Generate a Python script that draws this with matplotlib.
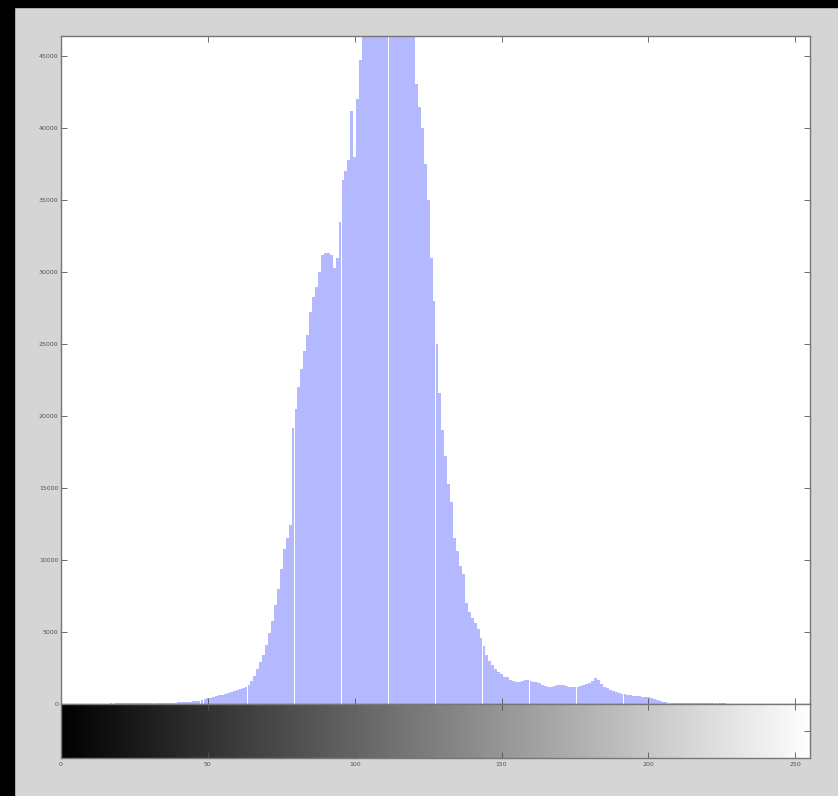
import numpy as np
import matplotlib
matplotlib.use("Agg")
import matplotlib.pyplot as plt
from matplotlib.patches import Rectangle

# Grey level counts (0..255)
counts = [
    10, 5, 8, 12, 10, 15, 12, 18, 20, 15,
    22, 25, 20, 28, 30, 25, 32, 35, 30, 38,
    40, 36, 42, 45, 40, 48, 50, 46, 55, 60,
    58, 65, 70, 68, 75, 80, 85, 90, 95, 100,
    110, 120, 130, 145, 160, 180, 200, 230, 270, 320,
    400, 450, 500, 550, 600, 650, 700, 760, 820, 880,
    950, 1020, 1100, 1200, 1350, 1600, 1950, 2400, 2900, 3400,
    4100, 4900, 5800, 6900, 8000, 9400, 10800, 11500, 12400, 19200,
    20500, 22000, 23300, 24500, 25600, 27200, 28300, 29000, 30000, 31200,
    31300, 31300, 31200, 30300, 31000, 33500, 36400, 37000, 37800, 41200,
    38000, 42000, 44700, 47500, 49000, 51000, 52500, 54000, 55000, 56000,
    56500, 57000, 56500, 56000, 55000, 54000, 52500, 51000, 49500, 48000,
    47000, 43100, 41500, 40000, 37500, 35000, 31000, 28000, 25000, 21600,
    19000, 17200, 15300, 14000, 11500, 10600, 9600, 9000, 7000, 6400,
    6000, 5600, 5200, 4600, 4000, 3400, 3000, 2700, 2400, 2200,
    2050, 1900, 1850, 1700, 1600, 1530, 1500, 1600, 1670, 1650,
    1600, 1550, 1530, 1450, 1350, 1250, 1180, 1200, 1250, 1300,
    1320, 1300, 1250, 1200, 1180, 1180, 1200, 1280, 1350, 1420,
    1460, 1600, 1800, 1700, 1400, 1200, 1110, 1000, 900, 830,
    780, 720, 680, 630, 600, 580, 560, 540, 520, 500,
    490, 450, 380, 300, 230, 170, 130, 100, 80, 70,
    65, 60, 60, 55, 55, 50, 50, 48, 45, 45,
    42, 40, 40, 38, 36, 35, 35, 33, 32, 30,
    30, 28, 28, 26, 25, 25, 24, 22, 22, 20,
    20, 18, 18, 16, 15, 15, 14, 12, 12, 10,
    10, 8, 8, 6, 5, 5,
]
levels = np.arange(len(counts))
x_ticks = [0, 50, 100, 150, 200, 250]
y_ticks = [0, 5000, 10000, 15000, 20000, 25000, 30000, 35000, 40000, 45000]

W, H = 838, 796
fig = plt.figure(figsize=(W / 100, H / 100), dpi=100, facecolor="#d5d5d5")

# black screenshot border top and left
fig.patches.append(Rectangle((0, 0), 14 / W, 1, transform=fig.transFigure,
                             color="black", zorder=0))
fig.patches.append(Rectangle((0, 1 - 7 / H), 1, 7 / H, transform=fig.transFigure,
                             color="black", zorder=0))

left, right = 61 / W, 810 / W
ax = fig.add_axes([left, (H - 704) / H, right - left, 668 / H])
ax.bar(levels, counts, width=0.97, color="#b4b9ff", linewidth=0, align="center")
ax.set_xlim(0, 255)
ax.set_ylim(0, 46400)
ax.set_xticks(x_ticks)
ax.set_xticklabels([])
ax.set_yticks(y_ticks)
ax.set_yticklabels([str(t) for t in y_ticks], fontsize=4.5, color="#333333")
ax.tick_params(direction="in", length=4, width=0.6, top=True, right=True,
               colors="#555555", pad=2)
for s in ax.spines.values():
    s.set_color("#777777")
    s.set_linewidth(1.0)

# grey level bar under the histogram
cax = fig.add_axes([left, (H - 758) / H, right - left, 54 / H])
cax.imshow(levels[None, :], cmap="gray", aspect="auto",
           extent=[-0.5, 255.5, 0, 1], vmin=0, vmax=255)
cax.set_xlim(0, 255)
cax.set_ylim(0, 1)
cax.set_xticks(x_ticks)
cax.set_xticklabels([str(t) for t in x_ticks], fontsize=4.5, color="#333333")
cax.yaxis.tick_right()
cax.set_yticks([0.5])
cax.set_yticklabels([])
cax.tick_params(direction="in", length=4, width=0.6, top=True,
                colors="#555555", pad=3)
for s in cax.spines.values():
    s.set_color("#777777")
    s.set_linewidth(1.0)

fig.savefig("out.png", dpi=100, facecolor=fig.get_facecolor())
